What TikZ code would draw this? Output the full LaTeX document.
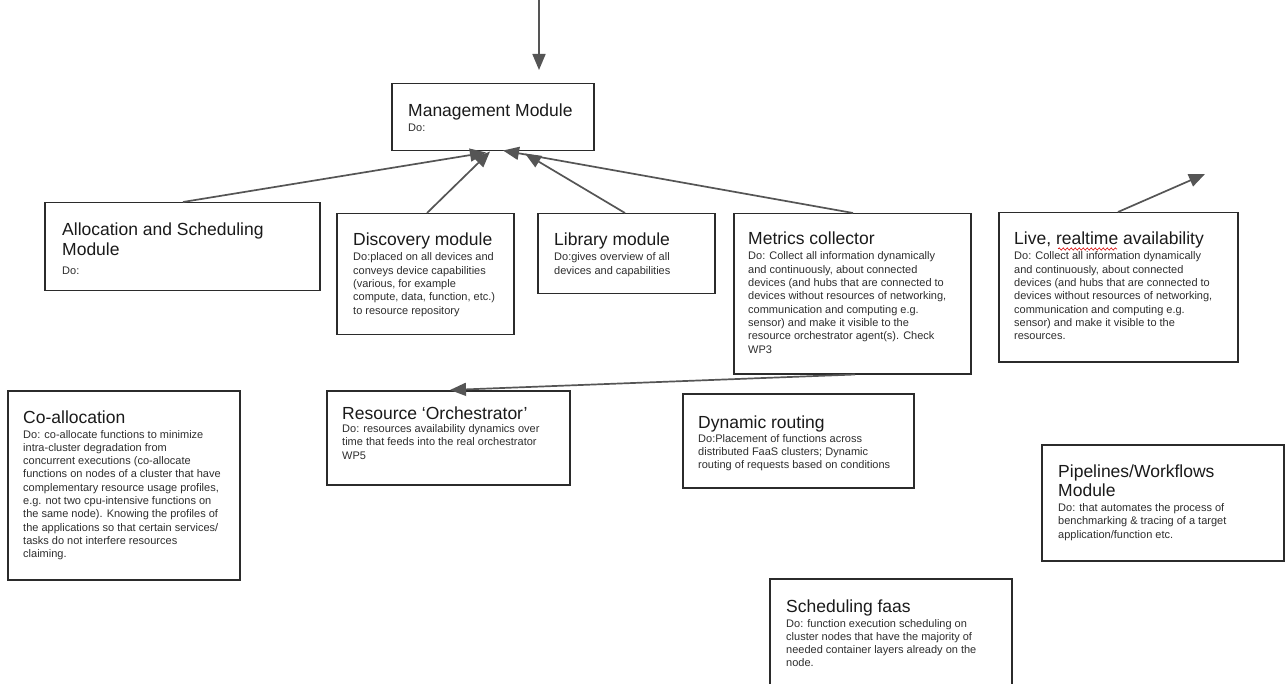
\documentclass[tikz,border=0pt]{standalone}
\usepackage{fontspec}
\setmainfont{Liberation Sans}
\usetikzlibrary{arrows.meta,calc,decorations.pathmorphing}

\definecolor{boxc}{HTML}{2B2B2B}
\definecolor{arrc}{HTML}{555555}
\definecolor{titlec}{HTML}{1A1A1A}
\definecolor{bodyc}{HTML}{2E2E2E}

% title and body text of a module card
\newcommand\ttl{\fontsize{17.5}{19.5}\selectfont}
\newcommand\bdy{\fontsize{11}{13.3}\selectfont\color{bodyc}}
% #1 gap between title and body, #2 title lines, #3 body lines
\newcommand\card[3]{\begin{minipage}[t]{320pt}\raggedright\ttl #2\par\vspace{#1}\bdy #3\par\end{minipage}}

\tikzset{
  card/.style={draw=boxc, line width=1.5pt, inner sep=0pt, anchor=north west, fill=white},
  cardtext/.style={anchor=base west, inner sep=0pt, text=titlec},
  link/.style={draw=arrc, line width=1.7pt, -{Triangle[length=16pt,width=13pt]}},
}

\begin{document}
\begin{tikzpicture}[x=1pt, y=-1pt]
\clip (0,0) rectangle (1287,684);
\fill[white] (0,0) rectangle (1287,684);

% boxes
\node[card, minimum width=202pt, minimum height=67pt]  (mgmt)  at (391,83)  {};
\node[card, minimum width=275pt, minimum height=88pt]  (alloc) at (44,202)  {};
\node[card, minimum width=177pt, minimum height=121pt] (disc)  at (336,213) {};
\node[card, minimum width=177pt, minimum height=80pt]  (lib)   at (537,213) {};
\node[card, minimum width=237pt, minimum height=160pt] (metr)  at (733,213) {};
\node[card, minimum width=239pt, minimum height=149pt] (live)  at (998,212) {};
\node[card, minimum width=232pt, minimum height=189pt] (coal)  at (7,390)   {};
\node[card, minimum width=243pt, minimum height=94pt]  (orch)  at (326,390) {};
\node[card, minimum width=231pt, minimum height=94pt]  (dyn)   at (682,393) {};
\node[card, minimum width=242pt, minimum height=116pt] (pipe)  at (1041,444) {};
\node[card, minimum width=242pt, minimum height=130pt] (sched) at (769,578) {};

% texts
\node[cardtext] (mgmt-t) at ($(mgmt.north west)+(17,34)$)
  {\card{1.7pt}{Management Module}{Do:}};
\node[cardtext] (alloc-t) at ($(alloc.north west)+(18,34)$)
  {\card{6pt}{Allocation and Scheduling\\Module}{Do:}};
\node[cardtext] (disc-t) at ($(disc.north west)+(17,33)$)
  {\card{1.7pt}{Discovery module}{Do:placed on all devices and\\conveys device capabilities\\(various, for example\\compute, data, function, etc.)\\to resource repository}};
\node[cardtext] (lib-t) at ($(lib.north west)+(17,33)$)
  {\card{1.7pt}{Library module}{Do:gives overview of all\\devices and capabilities}};
\node[cardtext] (metr-t) at ($(metr.north west)+(15,32)$)
  {\card{1.7pt}{Metrics collector}{Do: Collect all information dynamically\\and continuously, about connected\\devices (and hubs that are connected to\\devices without resources of networking,\\communication and computing e.g.\\sensor) and make it visible to the\\resource orchestrator agent(s). Check\\WP3}};
\node[cardtext] (live-t) at ($(live.north west)+(16,33)$)
  {\card{1.7pt}{Live, realtime availability}{Do: Collect all information dynamically\\and continuously, about connected\\devices (and hubs that are connected to\\devices without resources of networking,\\communication and computing e.g.\\sensor) and make it visible to the\\resources.}};
\node[cardtext] (coal-t) at ($(coal.north west)+(16,33)$)
  {\card{1.7pt}{Co-allocation}{Do: co-allocate functions to minimize\\intra-cluster degradation from\\concurrent executions (co-allocate\\functions on nodes of a cluster that have\\complementary resource usage profiles,\\e.g. not two cpu-intensive functions on\\the same node). Knowing the profiles of\\the applications so that certain services/\\tasks do not interfere resources\\claiming.}};
\node[cardtext] (orch-t) at ($(orch.north west)+(16,29)$)
  {\card{0.3pt}{Resource ‘Orchestrator’}{Do: resources availability dynamics over\\time that feeds into the real orchestrator\\WP5}};
\node[cardtext] (dyn-t) at ($(dyn.north west)+(16,35)$)
  {\card{0.8pt}{Dynamic routing}{Do:Placement of functions across\\distributed FaaS clusters; Dynamic\\routing of requests based on conditions}};
\node[cardtext] (pipe-t) at ($(pipe.north west)+(17,33)$)
  {\card{1.7pt}{Pipelines/Workflows\\Module}{Do: that automates the process of\\benchmarking \& tracing of a target\\application/function etc.}};
\node[cardtext] (sched-t) at ($(sched.north west)+(17,34)$)
  {\card{1.7pt}{Scheduling faas}{Do: function execution scheduling on\\cluster nodes that have the majority of\\needed container layers already on the\\node.}};

% spelling mark under "realtime"
\draw[red!85!black, line width=0.6pt, decorate,
      decoration={snake, amplitude=1.1pt, segment length=4pt}]
  ($(live.north west)+(60,37)$) -- ($(live.north west)+(119,37)$);

% connectors
\coordinate (feed) at (539,0);
\coordinate (liveout) at (1205,174);
\draw[link, shorten >=13pt] (feed) -- (feed |- mgmt.north);
\draw[link] ($(alloc.north west)+(139,0)$) -- ($(mgmt.south west)+(95,1)$);
\draw[link] ($(disc.north west)+(91,0)$)   -- ($(mgmt.south west)+(99,0)$);
\draw[link] ($(lib.north west)+(88,0)$)    -- ($(mgmt.south west)+(134,2)$);
\draw[link] ($(metr.north west)+(120,0)$)  -- ($(mgmt.south west)+(112,-1)$);
\draw[link] ($(metr.south west)+(122,0)$)  -- ($(orch.north west)+(124,0)$);
\draw[link] ($(live.north west)+(120,0)$)  -- (liveout);
\end{tikzpicture}
\end{document}
